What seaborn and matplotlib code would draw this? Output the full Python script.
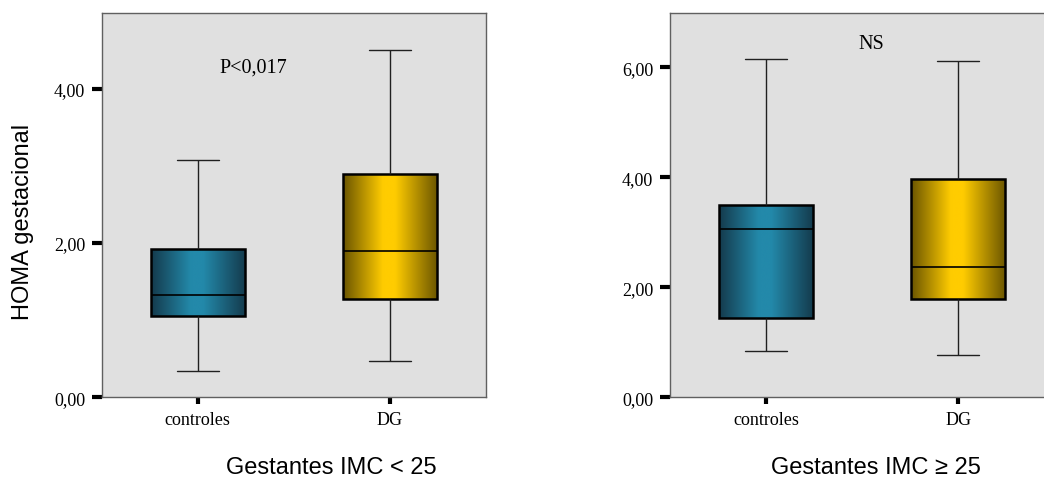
import numpy as np
import pandas as pd
import matplotlib
matplotlib.use("Agg")
import matplotlib.pyplot as plt
from matplotlib.colors import LinearSegmentedColormap
import seaborn as sns

# HOMA gestacional: five-number summaries (min, Q1, median, Q3, max) per group
groups = ["controles", "DG"]
imc_lt25_controles = [0.34, 1.06, 1.33, 1.92, 3.08]
imc_lt25_dg = [0.47, 1.27, 1.89, 2.90, 4.50]
imc_ge25_controles = [0.84, 1.45, 3.06, 3.50, 6.15]
imc_ge25_dg = [0.77, 1.78, 2.37, 3.97, 6.11]

panel_titles = ["Gestantes IMC < 25", "Gestantes IMC \u2265 25"]
panel_notes = ["P<0,017", "NS"]
yticks_lt25 = [0, 2, 4]
yticks_ge25 = [0, 2, 4, 6]

sns.set_theme(style="white")
plt.rcParams["font.family"] = ["Liberation Serif", "DejaVu Serif"]
plt.rcParams.update({
    "text.color": "black",
    "axes.labelcolor": "black",
    "xtick.color": "black",
    "ytick.color": "black",
    "xtick.labelcolor": "black",
    "ytick.labelcolor": "black",
})

W, H = 1044, 481
fig = plt.figure(figsize=(W / 100, H / 100), dpi=100)

def frame(data_ctrl, data_dg):
    return pd.DataFrame({
        "grupo": [groups[0]] * len(data_ctrl) + [groups[1]] * len(data_dg),
        "homa": list(data_ctrl) + list(data_dg),
    })

gradients = {
    "controles": ["#143a4c", "#2389aa", "#2389aa", "#143a4c"],
    "DG": ["#6a5500", "#ffcc00", "#ffcc00", "#6a5500"],
}
grad_pos = [0.0, 0.42, 0.55, 1.0]

panels = [
    dict(df=frame(imc_lt25_controles, imc_lt25_dg), ylim=4.98, yticks=yticks_lt25,
         left=101.7, xlab=(0.597, -0.181), note_xy=(0.29, 4.28), ylabel=True),
    dict(df=frame(imc_ge25_controles, imc_ge25_dg), ylim=6.99, yticks=yticks_ge25,
         left=670.0, xlab=(0.536, -0.181), note_xy=(0.55, 6.44), ylabel=False),
]

ax_w, ax_top, ax_bot = 384.3, 14.0, 398.3
for i, p in enumerate(panels):
    ax = fig.add_axes([p["left"] / W, (H - ax_bot) / H, ax_w / W, (ax_bot - ax_top) / H])
    ax.set_facecolor("#e0e0e0")
    sns.boxplot(
        data=p["df"], x="grupo", y="homa", order=groups, ax=ax,
        whis=(0, 100), width=0.49, color="white", showfliers=False,
        boxprops=dict(edgecolor="black", linewidth=1.8),
        whiskerprops=dict(color="#202020", linewidth=1.0),
        capprops=dict(color="#202020", linewidth=1.0),
        medianprops=dict(color="black", linewidth=1.2),
    )
    # horizontal shading inside each box
    for patch, g in zip(list(ax.patches), groups):
        ext = patch.get_path().get_extents()
        cmap = LinearSegmentedColormap.from_list(g, list(zip(grad_pos, gradients[g])))
        grad = np.linspace(0, 1, 256)[None, :]
        im = ax.imshow(grad, cmap=cmap, aspect="auto", interpolation="bicubic",
                       extent=[ext.x0, ext.x1, ext.y0, ext.y1],
                       zorder=patch.get_zorder() - 0.1)
        im.set_clip_path(patch)
        patch.set_facecolor("none")
    # shorter whisker caps
    for line in ax.lines:
        xd = np.asarray(line.get_xdata(), dtype=float)
        yd = np.asarray(line.get_ydata(), dtype=float)
        if len(yd) == 2 and yd[0] == yd[1] and len(xd) == 2 and abs(xd[1] - xd[0]) < 0.3:
            c = xd.mean()
            line.set_xdata([c - 0.11, c + 0.11])

    ax.set_xlim(-0.5, 1.5)
    ax.set_ylim(0, p["ylim"])
    ax.set_yticks(p["yticks"])
    ax.set_yticklabels([f"{v:.2f}".replace(".", ",") for v in p["yticks"]])
    ax.tick_params(axis="y", direction="out", length=7, width=3, color="black",
                   labelcolor="black", labelsize=13, pad=5, left=True)
    ax.tick_params(axis="x", direction="out", length=5, width=3, color="black",
                   labelcolor="black", labelsize=13, pad=5, bottom=True)
    for s in ax.spines.values():
        s.set_color("#606060")
        s.set_linewidth(1.0)
        s.set_visible(True)

    ax.set_xlabel(panel_titles[i], family=["Liberation Sans", "DejaVu Sans"],
                  fontsize=17, va="center", color="black")
    ax.xaxis.set_label_coords(*p["xlab"])
    if p["ylabel"]:
        ax.set_ylabel("HOMA gestacional", family=["Liberation Sans", "DejaVu Sans"],
                      fontsize=17, va="center", color="black")
        ax.yaxis.set_label_coords(-0.2056, 0.459)
    else:
        ax.set_ylabel("")
    ax.text(*p["note_xy"], panel_notes[i], ha="center", va="center", fontsize=14.5,
            color="black")

fig.savefig("out.png", dpi=100)
